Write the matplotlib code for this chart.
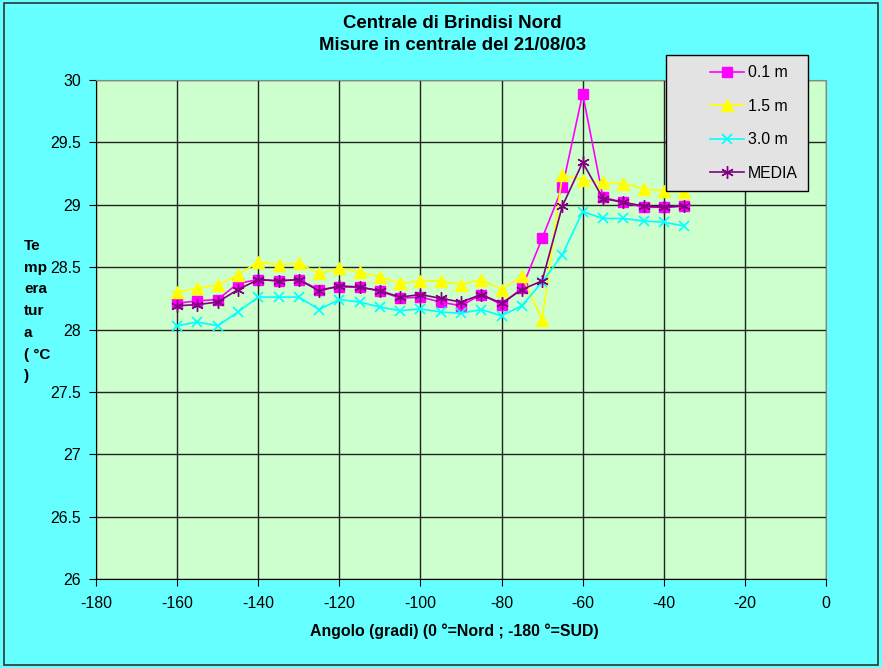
import matplotlib.pyplot as plt
from matplotlib.patches import Rectangle
from matplotlib.legend_handler import HandlerLine2D

plt.rcParams['font.family'] = ['Liberation Sans', 'DejaVu Sans']
plt.rcParams['axes.unicode_minus'] = False

# angoli di misura (gradi)
angoli = [-160, -155, -150, -145, -140, -135, -130, -125, -120, -115, -110, -105, -100,
          -95, -90, -85, -80, -75, -70, -65, -60, -55, -50, -45, -40, -35]

# temperature
t_01 = [28.21, 28.23, 28.24, 28.37, 28.40, 28.39, 28.40, 28.32, 28.34, 28.34, 28.31, 28.25, 28.26,
        28.22, 28.19, 28.28, 28.20, 28.33, 28.73, 29.14, 29.89, 29.06, 29.02, 28.98, 28.98, 28.99]
t_15 = [28.30, 28.33, 28.355, 28.44, 28.54, 28.52, 28.53, 28.45, 28.49, 28.46, 28.42, 28.37, 28.39,
        28.39, 28.36, 28.40, 28.32, 28.43, 28.08, 29.24, 29.20, 29.18, 29.17, 29.13, 29.11, 29.10]
t_30 = [28.03, 28.06, 28.03, 28.14, 28.26, 28.26, 28.26, 28.16, 28.24, 28.22, 28.18, 28.15, 28.165,
        28.14, 28.13, 28.16, 28.11, 28.19, 28.38, 28.60, 28.945, 28.89, 28.89, 28.87, 28.86, 28.83]
media = [28.19, 28.20, 28.22, 28.32, 28.40, 28.39, 28.40, 28.31, 28.35, 28.34, 28.31, 28.26, 28.28,
         28.25, 28.22, 28.28, 28.21, 28.32, 28.39, 28.99, 29.34, 29.05, 29.02, 28.99, 28.98, 28.99]

fs = 11.4

fig = plt.figure(figsize=(8.82, 6.68), dpi=100)
fig.patch.set_facecolor('#66FFFF')
fig.patches.append(Rectangle((0.004, 0.004), 0.992, 0.992, transform=fig.transFigure,
                             fill=False, edgecolor='#333333', linewidth=1.2))

ax = fig.add_axes([96 / 882, 1 - 579 / 668, 730 / 882, 499 / 668])
ax.set_facecolor('#CCFFCC')

ax.plot(angoli, t_01, color='#FF00FF', marker='s', markersize=7, linewidth=1.2, label='0.1 m')
ax.plot(angoli, t_15, color='#FFFF00', marker='^', markersize=8, linewidth=1.2, label='1.5 m')
ax.plot(angoli, t_30, color='#00FFFF', marker='x', markersize=7, markeredgewidth=1.2,
        linewidth=1.2, label='3.0 m')
ax.plot(angoli, media, color='#800080', marker=(6, 2, 0), markersize=9, markeredgewidth=1.0,
        linewidth=1.2, label='MEDIA')

ax.set_xlim(-180, 0)
ax.set_ylim(26, 30)
ax.set_xticks(range(-180, 1, 20))
ax.set_yticks([26, 26.5, 27, 27.5, 28, 28.5, 29, 29.5, 30])
ax.set_yticklabels(['26', '26.5', '27', '27.5', '28', '28.5', '29', '29.5', '30'])
ax.tick_params(direction='out', length=5, labelsize=fs, colors='black')
ax.tick_params(axis='x', pad=7)
ax.tick_params(axis='y', pad=6)
ax.grid(True, color='#222222', linewidth=1.0)
ax.set_axisbelow(True)
for s in ['top', 'right']:
    ax.spines[s].set_color('#888888')
for s in ['left', 'bottom']:
    ax.spines[s].set_color('black')

fig.text(454 / 882, 1 - 631 / 668, 'Angolo (gradi) (0 °=Nord ; -180 °=SUD)', fontsize=fs,
         fontweight='bold', ha='center', va='center')
fig.text(24 / 882, 1 - 239 / 668, 'Te\nmp\nera\ntur\na\n( °C\n)', fontsize=11, fontweight='bold',
         ha='left', va='top', linespacing=1.7)

fig.text(452.5 / 882, 1 - 24 / 668, 'Centrale di Brindisi Nord', fontsize=13.4, fontweight='bold',
         ha='center', va='center')
fig.text(452.5 / 882, 1 - 46 / 668, 'Misure in centrale del 21/08/03', fontsize=13.4,
         fontweight='bold', ha='center', va='center')

# legenda: maniglia spostata a destra come nell'originale
hmap = {l: HandlerLine2D(xpad=2.15) for l in ax.get_lines()}
leg = ax.legend(loc='upper left', bbox_to_anchor=((666 - 96) / 730, 1 + 25 / 499),
                fontsize=fs, frameon=True, fancybox=False, edgecolor='black',
                facecolor='#E3E3E3', framealpha=1, labelspacing=1.17, handlelength=4.25,
                borderpad=0.65, borderaxespad=0, handletextpad=0.25, handler_map=hmap)
leg.get_frame().set_linewidth(1.0)
leg.set_zorder(10)

fig.savefig('out.png', dpi=100, facecolor=fig.get_facecolor())
